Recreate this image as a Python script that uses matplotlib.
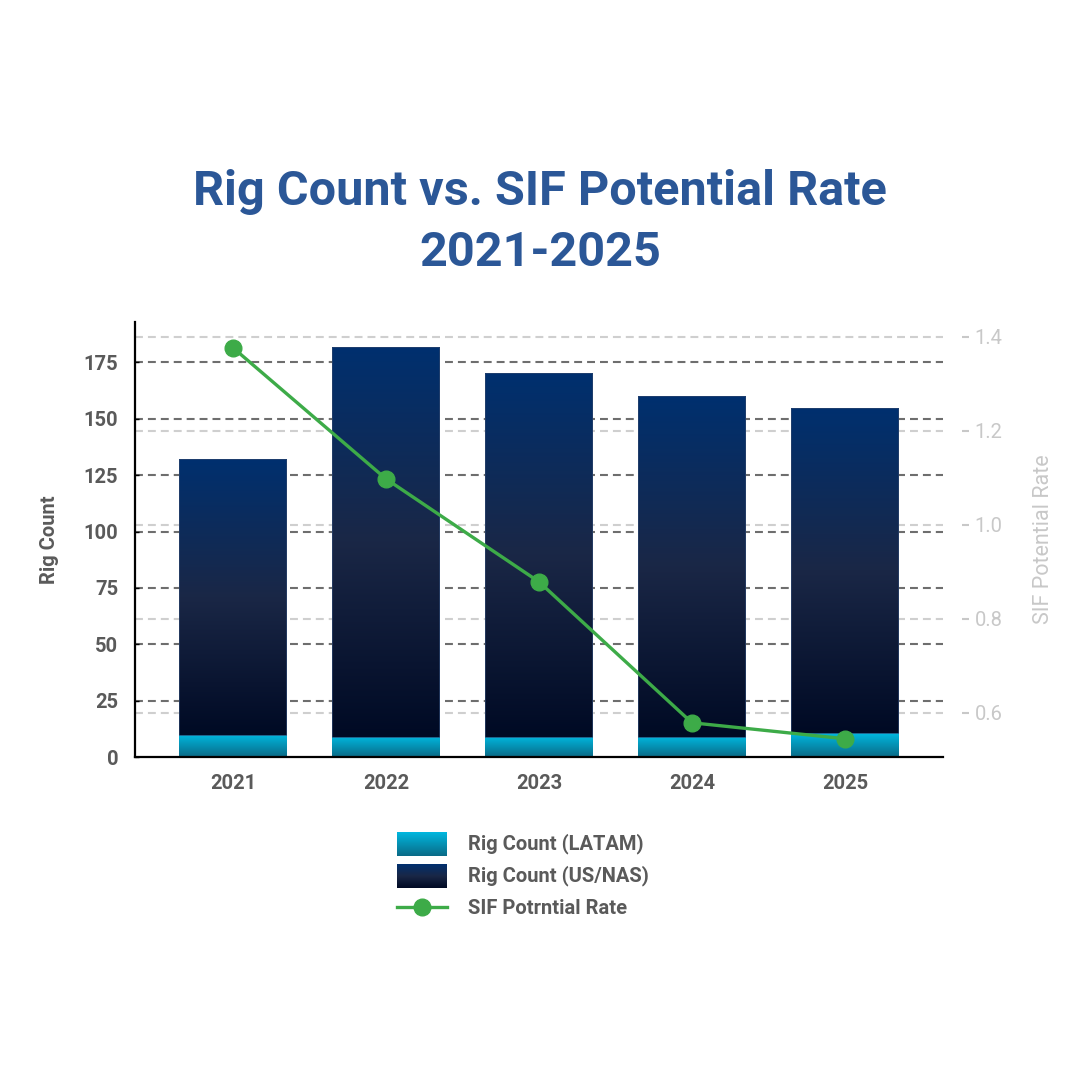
import numpy as np
import matplotlib
matplotlib.use('Agg')
from matplotlib import pyplot as plt
from matplotlib import font_manager
from matplotlib.colors import LinearSegmentedColormap

# chart data
years = ['2021', '2022', '2023', '2024', '2025']
latam = [10, 9, 9, 9, 10.5]
us_nas = [122, 173, 161.5, 151, 144.5]
sif_rate = [1.377, 1.098, 0.879, 0.579, 0.545]

left_ticks = [0, 25, 50, 75, 100, 125, 150, 175]
right_ticks = [0.6, 0.8, 1.0, 1.2, 1.4]

# colours
title_color = '#2b5797'
text_color = '#5a5a5a'
light_color = '#c8c8c8'
green = '#3dab48'
us_cmap = LinearSegmentedColormap.from_list('us', ['#000a24', '#1a2746', '#00306f'])
latam_cmap = LinearSegmentedColormap.from_list('latam', ['#0a6a86', '#00b8e0'])

names = {f.name for f in font_manager.fontManager.ttflist}
base_font = 'Roboto' if 'Roboto' in names else 'DejaVu Sans'
plt.rcParams['font.family'] = [base_font, 'DejaVu Sans']

fig = plt.figure(figsize=(10.8, 10.8), dpi=100)
ax2 = fig.add_axes([0.125, 0.299, 0.748, 0.403])
ax = ax2.twinx()
# swap roles: ax (left scale) drawn on top, ax2 (right scale) behind
ax.yaxis.set_ticks_position('left')
ax.yaxis.set_label_position('left')
ax2.yaxis.set_ticks_position('right')
ax2.yaxis.set_label_position('right')
ax.xaxis.set_visible(True)
ax2.xaxis.set_visible(False)
ax.set_zorder(ax2.get_zorder() + 1)
ax.patch.set_visible(False)

x = np.arange(len(years))
grad = np.linspace(0, 1, 256).reshape(-1, 1)

bars_l = ax.bar(x, latam, width=0.7, color='none', edgecolor='none', zorder=2)
bars_u = ax.bar(x, us_nas, width=0.7, bottom=latam, color='none',
                edgecolor='#2c456e', linewidth=0.5, zorder=2)
for bars, cmap in [(bars_l, latam_cmap), (bars_u, us_cmap)]:
    for b in bars:
        x0, y0 = b.get_x(), b.get_y()
        im = ax.imshow(grad, cmap=cmap, origin='lower', aspect='auto', zorder=1.9,
                       extent=[x0, x0 + b.get_width(), y0, y0 + b.get_height()])
        im.set_clip_path(b)

# line drawn in the top axes but on the right-hand scale
ax.plot(x, sif_rate, color=green, lw=2.4, marker='o', ms=12, zorder=4,
        transform=ax2.transData, clip_on=False)

ax.set_xlim(-0.64, 4.64)
ax.set_ylim(0, 193)
ax2.set_ylim(0.506, 1.432)

ax.set_yticks(left_ticks)
ax2.set_yticks(right_ticks)
ax.set_xticks(x)
ax.set_xticklabels(years)

dash = (0, (3.8, 2.4))
for t in left_ticks[1:]:
    ax.axhline(t, color='#6e6e6e', lw=1.5, ls=dash, zorder=0.5)
for t in right_ticks:
    ax2.axhline(t, color='#cfcfcf', lw=1.5, ls=dash, zorder=0.5)

for s in ['top', 'right']:
    ax.spines[s].set_visible(False)
for s in ['top', 'left', 'bottom', 'right']:
    ax2.spines[s].set_visible(False)
ax2.spines['right'].set_position(('outward', 14))
ax.spines['left'].set_linewidth(1.6)
ax.spines['bottom'].set_linewidth(1.6)
ax.spines['left'].set_color('black')
ax.spines['bottom'].set_color('black')

ax.tick_params(axis='y', direction='in', length=3, width=1, pad=12,
               labelsize=14.5, labelcolor=text_color)
ax.tick_params(axis='x', length=0, pad=12, labelsize=14.5, labelcolor=text_color)
ax2.tick_params(axis='y', direction='out', length=5, width=1.5, color=light_color,
                pad=4, labelsize=14.5, labelcolor=light_color)
for lab in ax.get_yticklabels() + ax.get_xticklabels():
    lab.set_fontweight('semibold')

ax.set_ylabel('Rig Count', fontsize=14.5, color=text_color, fontweight='semibold', labelpad=18)
ax2.set_ylabel('SIF Potential Rate', fontsize=15.5, color=light_color, labelpad=22)

# title
fig.text(0.5, 1 - 192 / 1080, 'Rig Count vs. SIF Potential Rate', ha='center', va='center',
         fontsize=35, fontweight='bold', color=title_color)
fig.text(0.5, 1 - 253 / 1080, '2021-2025', ha='center', va='center',
         fontsize=35, fontweight='bold', color=title_color)

# legend
lg = fig.add_axes([0, 0, 1, 1], zorder=5)
lg.imshow(grad[::-1], cmap=latam_cmap, origin='upper', aspect='auto', extent=[397, 447, 856, 832])
lg.imshow(grad[::-1], cmap=us_cmap, origin='upper', aspect='auto', extent=[397, 447, 888, 864])
lg.plot([397, 447], [907, 907], color=green, lw=2.4)
lg.plot([422], [907], marker='o', ms=12, color=green)
lg.set_xlim(0, 1080)
lg.set_ylim(1080, 0)
lg.axis('off')
for yy, label in [(844, 'Rig Count (LATAM)'), (876, 'Rig Count (US/NAS)'), (908, 'SIF Potrntial Rate')]:
    lg.text(468, yy, label, ha='left', va='center', fontsize=14.5, color=text_color,
            fontweight='semibold')

fig.savefig('out.png', dpi=100)
